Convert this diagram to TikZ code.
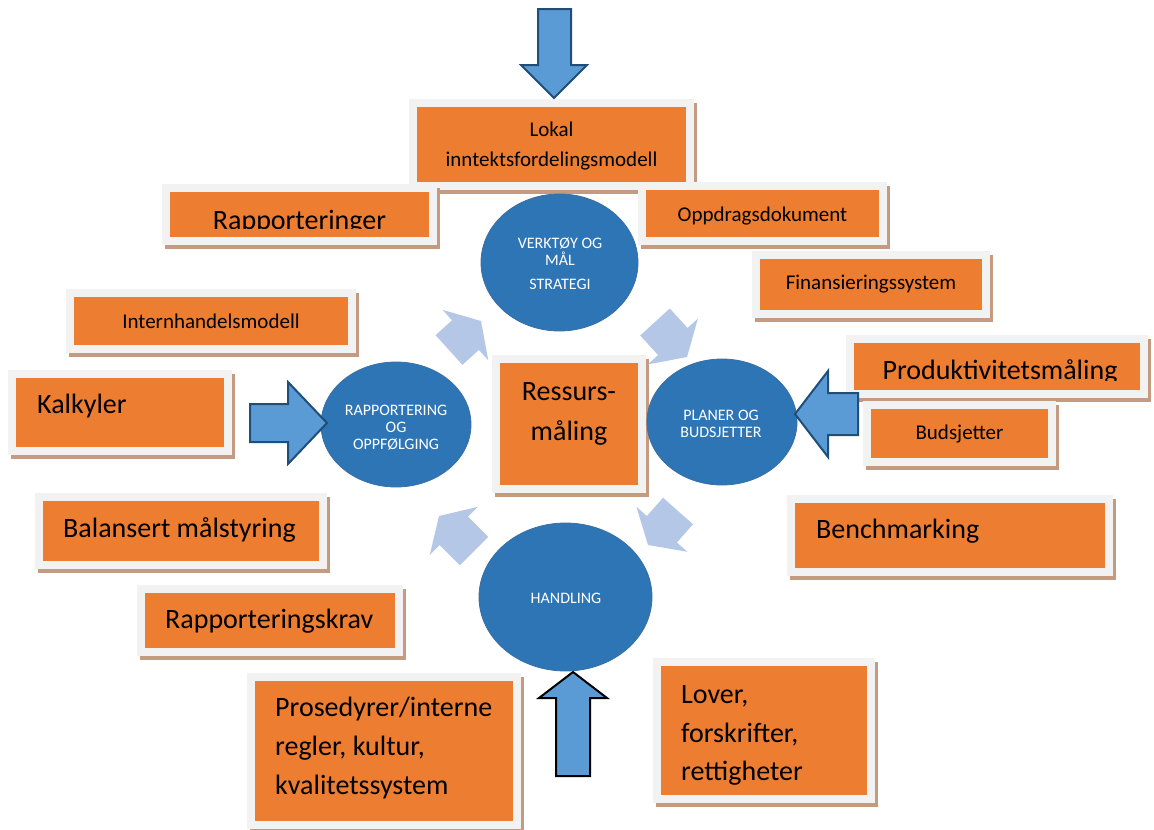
\documentclass[tikz,border=0pt]{standalone}
\usepackage{fontspec}
\setmainfont{Carlito}
\usetikzlibrary{calc,fit,shapes.geometric}
\definecolor{orng}{HTML}{ED7D31}
\definecolor{frm}{HTML}{F2F2F2}
\definecolor{shd}{HTML}{C49A80}
\definecolor{circ}{HTML}{2E75B6}
\definecolor{circedge}{HTML}{3A6FA3}
\definecolor{darr}{HTML}{5B9BD5}
\definecolor{darredge}{HTML}{1F4E79}
\definecolor{larr}{HTML}{B4C7E7}
\newcommand\obox[5]{%
  \fill[shd] ({#2-8+3},{#3-8+4}) rectangle ({#4+8+3},{#5+8+4});
  \fill[frm] ({#2-8},{#3-8}) rectangle ({#4+8},{#5+8});
  \node[fill=orng, inner sep=0pt, fit={(#2,#3) (#4,#5)}] (#1) {};
}
\newcommand\larrow[2]{%
  \coordinate (lt) at #1; \coordinate (lp) at #2;
  \coordinate (lb) at ($(lp)!21pt!(lt)$);
  \fill[larr] ($(lt)!20pt!90:(lp)$) -- ($(lb)!20pt!90:(lp)$) -- ($(lb)!34pt!90:(lp)$) -- (lp)
    -- ($(lb)!34pt!-90:(lp)$) -- ($(lb)!20pt!-90:(lp)$) -- ($(lt)!20pt!-90:(lp)$) -- cycle;
}
\tikzset{
  big/.style={font=\fontsize{28}{34}\selectfont, inner sep=0pt, text=black},
  small/.style={font=\fontsize{21}{25}\selectfont, inner sep=0pt, text=black},
  ctext/.style={font=\fontsize{16}{18}\selectfont, inner sep=0pt, text=white, anchor=base},
  circnode/.style={ellipse, fill=circ, draw=circedge, line width=0.8pt, inner sep=0pt},
  darrow/.style={fill=darr, draw=darredge, line width=2pt, line join=miter},
}
\begin{document}
\begin{tikzpicture}[x=1pt,y=-1pt]
\useasboundingbox[fill=white] (0,0) rectangle (1154,830);
% boxes
\obox{lokal}{417}{107}{686}{182}
\obox{rapp}{170}{192}{429}{237}
\obox{oppd}{646}{190}{879}{237}
\obox{fin}{760}{259}{982}{310}
\obox{intern}{74}{297}{348}{345}
\obox{kalk}{16}{378}{224}{447}
\obox{prod}{854}{343}{1140}{390}
\obox{buds}{871}{409}{1048}{458}
\obox{bench}{795}{503}{1105}{568}
\obox{bal}{43}{501}{319}{561}
\obox{rkrav}{145}{593}{395}{648}
\obox{pros}{255}{681}{513}{821}
\obox{lover}{661}{666}{867}{795}
\obox{ress}{500}{363}{638}{485}
% box texts
\node[small, anchor=base] (t1a) at (551.5,136) {Lokal};
\node[small, anchor=base] (t1b) at (551.5,166) {inntektsfordelingsmodell};
\begin{scope}
\clip (170,192) rectangle (429,228.5);
\node[big, anchor=base] (t2) at (299.5,229.5) {Rapporteringer};
\end{scope}
\node[small, anchor=base] (t3) at (762.5,221) {Oppdragsdokument};
\node[small, anchor=base] (t4) at (871,289) {Finansieringssystem};
\node[small, anchor=base] (t5) at (211,328) {Internhandelsmodell};
\node[big, anchor=base west] (t6) at (37,413) {Kalkyler};
\begin{scope}
\clip (854,343) rectangle (1140,380.5);
\node[big, anchor=base] (t7) at (1000,379.5) {Produktivitetsmåling};
\end{scope}
\node[small, anchor=base] (t8) at (959.5,439) {Budsjetter};
\node[big, anchor=base west] (t9) at (816,538) {Benchmarking};
\node[big, anchor=base west] (t10) at (63,537) {Balansert målstyring};
\node[big, anchor=base west] (t11) at (165,628) {Rapporteringskrav};
\node[big, anchor=base west] (t12a) at (275,716) {Prosedyrer/interne};
\node[big, anchor=base west] (t12b) at (275,755) {regler, kultur,};
\node[big, anchor=base west] (t12c) at (275,794) {kvalitetssystem};
\node[big, anchor=base west] (t13a) at (681,703) {Lover,};
\node[big, anchor=base west] (t13b) at (681,742) {forskrifter,};
\node[big, anchor=base west] (t13c) at (681,780) {rettigheter};
\node[big, anchor=base] (t14a) at (569,400) {Ressurs-};
\node[big, anchor=base] (t14b) at (569,440) {måling};
% light arrows
\larrow{(449,350)}{(481,321)}
\larrow{(655,322)}{(687,357)}
\larrow{(678,511)}{(648,545)}
\larrow{(474,551)}{(439,516)}
% circles
\node[circnode, minimum width=157pt, minimum height=137pt] (verk) at (559.5,262.5) {};
\node[circnode, minimum width=150pt, minimum height=126pt] (plan) at (722,422) {};
\node[circnode, minimum width=150pt, minimum height=125pt] (rapf) at (396,424.5) {};
\node[circnode, minimum width=173pt, minimum height=148pt] (hand) at (565.5,597) {};
\node[ctext] (c1a) at (560,248.5) {VERKTØY OG};
\node[ctext] (c1b) at (560,265.5) {MÅL};
\node[ctext] (c1c) at (560,289.5) {STRATEGI};
\node[ctext] (c2a) at (721,420.5) {PLANER OG};
\node[ctext] (c2b) at (721,437.5) {BUDSJETTER};
\node[ctext] (c3a) at (396,415) {RAPPORTERING};
\node[ctext] (c3b) at (396,432) {OG};
\node[ctext] (c3c) at (396,449) {OPPFØLGING};
\node[ctext] (c4) at (566,603.5) {HANDLING};
% dark arrows
\draw[darrow] (538,9) -- (571,9) -- (571,65) -- (587,65) -- (554,98) -- (521,65) -- (538,65) -- cycle;
\draw[darrow] (250,404) -- (288,404) -- (288,382) -- (327,423) -- (288,464) -- (288,442) -- (250,442) -- cycle;
\draw[darrow] (858,393) -- (828,393) -- (828,371) -- (795,414) -- (828,457) -- (828,435) -- (858,435) -- cycle;
\draw[darrow, draw=black] (556,776) -- (590,776) -- (590,698) -- (607,698) -- (573,672) -- (539,698) -- (556,698) -- cycle;
\end{tikzpicture}
\end{document}
